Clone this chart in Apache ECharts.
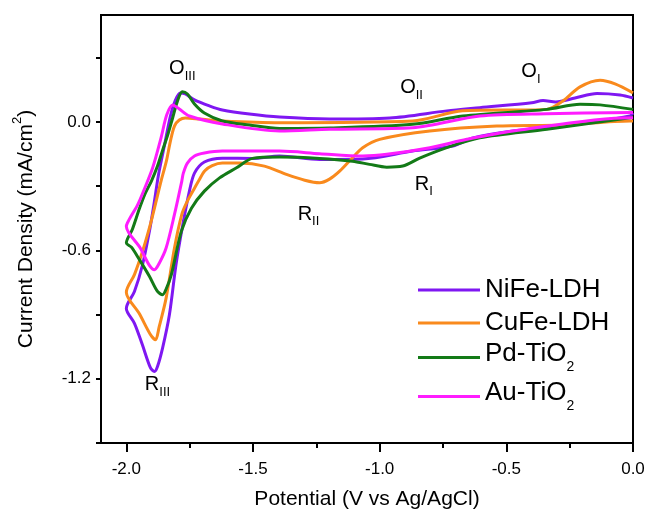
<!DOCTYPE html>
<html>
<head>
<meta charset="utf-8">
<script src="https://cdn.jsdelivr.net/npm/echarts@6/dist/echarts.min.js"></script>
<style>
  html, body { margin: 0; padding: 0; background: #ffffff; }
  #chart { width: 649px; height: 510px; }
</style>
</head>
<body>
<div id="chart"></div>
<script>
// Cyclic voltammograms: [potential (V vs Ag/AgCl), current density (mA/cm2)]
// Each loop runs the cathodic sweep from 0 V to -2 V, then the anodic sweep back.
const nifeLDH = [
  [0, 0.042], [-0.012, 0.028], [-0.277, -0.019], [-0.474, -0.042], [-0.632, -0.074],
  [-0.711, -0.112], [-0.870, -0.136], [-1.067, -0.173], [-1.237, -0.175], [-1.395, -0.159],
  [-1.502, -0.170], [-1.621, -0.169], [-1.692, -0.187], [-1.731, -0.239], [-1.751, -0.323],
  [-1.777, -0.479], [-1.804, -0.667], [-1.830, -0.901], [-1.857, -1.057], [-1.877, -1.143],
  [-1.889, -1.166], [-1.905, -1.148], [-1.937, -1.040], [-1.968, -0.941], [-2.0, -0.871],
  [-1.968, -0.792], [-1.936, -0.667], [-1.909, -0.511], [-1.889, -0.370], [-1.874, -0.253],
  [-1.850, -0.112], [-1.826, 0.028], [-1.806, 0.103], [-1.787, 0.136], [-1.767, 0.131],
  [-1.731, 0.103], [-1.672, 0.075], [-1.621, 0.056], [-1.514, 0.037], [-1.395, 0.023],
  [-1.198, 0.014], [-0.960, 0.019], [-0.735, 0.052], [-0.605, 0.067], [-0.400, 0.090],
  [-0.355, 0.100], [-0.305, 0.094], [-0.229, 0.112], [-0.142, 0.133], [-0.051, 0.126],
  [0, 0.112]
];
const cufeLDH = [
  [0, 0.005], [-0.012, 0.005], [-0.277, -0.014], [-0.538, -0.019], [-0.802, -0.042],
  [-1.0, -0.081], [-1.067, -0.120], [-1.107, -0.167], [-1.158, -0.230], [-1.198, -0.267],
  [-1.237, -0.284], [-1.296, -0.272], [-1.368, -0.245], [-1.455, -0.206], [-1.553, -0.192],
  [-1.621, -0.192], [-1.661, -0.204], [-1.690, -0.228], [-1.712, -0.270], [-1.735, -0.318],
  [-1.760, -0.372], [-1.781, -0.432], [-1.810, -0.589], [-1.843, -0.823], [-1.870, -0.955],
  [-1.885, -1.018], [-1.905, -0.993], [-1.949, -0.895], [-2.0, -0.795],
  [-1.968, -0.713], [-1.936, -0.604], [-1.902, -0.464], [-1.876, -0.339], [-1.863, -0.276],
  [-1.842, -0.183], [-1.826, -0.089], [-1.810, -0.019], [-1.791, 0.009], [-1.767, 0.019],
  [-1.711, 0.014], [-1.621, 0.005], [-1.395, -0.003], [-0.870, 0.005], [-0.672, 0.052],
  [-0.340, 0.059], [-0.277, 0.098], [-0.209, 0.164], [-0.130, 0.195], [-0.071, 0.178],
  [0, 0.136]
];
const pdTiO2 = [
  [0, 0.023], [-0.012, 0.020], [-0.340, -0.034], [-0.605, -0.074], [-0.735, -0.120],
  [-0.842, -0.169], [-0.909, -0.206], [-0.972, -0.211], [-1.040, -0.198], [-1.107, -0.183],
  [-1.237, -0.170], [-1.395, -0.164], [-1.502, -0.170], [-1.565, -0.214], [-1.632, -0.261],
  [-1.692, -0.323], [-1.743, -0.403], [-1.783, -0.511], [-1.822, -0.712], [-1.842, -0.778],
  [-1.857, -0.807], [-1.877, -0.792], [-1.909, -0.721], [-1.949, -0.642], [-1.980, -0.585],
  [-2.0, -0.565],
  [-1.976, -0.501], [-1.949, -0.407], [-1.925, -0.333], [-1.901, -0.276], [-1.877, -0.206],
  [-1.858, -0.136], [-1.838, -0.066], [-1.817, 0.020], [-1.798, 0.098], [-1.779, 0.141],
  [-1.759, 0.131], [-1.731, 0.084], [-1.692, 0.042], [-1.621, 0.005], [-1.514, -0.014],
  [-1.395, -0.030], [-1.198, -0.028], [-0.870, -0.011], [-0.672, 0.028], [-0.340, 0.059],
  [-0.209, 0.083], [-0.130, 0.080], [0, 0.059]
];
const auTiO2 = [
  [0, 0.020], [-0.012, 0.020], [-0.474, -0.042], [-0.656, -0.081], [-0.802, -0.120],
  [-0.972, -0.151], [-1.067, -0.159], [-1.237, -0.148], [-1.395, -0.136], [-1.502, -0.136],
  [-1.621, -0.136], [-1.692, -0.145], [-1.731, -0.159], [-1.759, -0.192], [-1.775, -0.239],
  [-1.781, -0.276], [-1.810, -0.432], [-1.843, -0.589], [-1.870, -0.660], [-1.889, -0.690],
  [-1.909, -0.670], [-1.945, -0.589], [-2.0, -0.487],
  [-1.988, -0.454], [-1.955, -0.386], [-1.929, -0.314], [-1.896, -0.214], [-1.863, -0.074],
  [-1.840, 0.035], [-1.817, 0.080], [-1.791, 0.061], [-1.751, 0.028], [-1.621, -0.009],
  [-1.395, -0.042], [-1.198, -0.034], [-0.870, -0.027], [-0.605, 0.028], [-0.340, 0.039],
  [0, 0.044]
];

const seriesNames = ['NiFe-LDH', 'CuFe-LDH', 'Pd-TiO2', 'Au-TiO2'];
const seriesColors = ['#7f17f2', '#f98a1d', '#137a17', '#ff1cff'];

// Axis ticks and labels
const xMajorTicks = [-2.0, -1.5, -1.0, -0.5, 0.0];
const xMinorTicks = [-1.75, -1.25, -0.75, -0.25];
const yTicks = [-1.5, -1.2, -0.9, -0.6, -0.3, 0.0, 0.3];
const yLabels = [-1.2, -0.6, 0.0];

// Redox peak annotations: [potential, current, letter, subscript]
const peakLabels = [
  [-1.779, 0.239, 'O', 'III'],
  [-0.874, 0.150, 'O', 'II'],
  [-0.403, 0.225, 'O', 'I'],
  [-1.877, -1.237, 'R', 'III'],
  [-1.281, -0.440, 'R', 'II'],
  [-0.826, -0.300, 'R', 'I']
];

const FONT = '"Liberation Sans", Arial, Helvetica, sans-serif';
const curves = [nifeLDH, cufeLDH, pdTiO2, auTiO2];
const legendTops = [277, 310, 341, 380];

const chart = echarts.init(document.getElementById('chart'), null, { renderer: 'canvas' });

const legendLabel = (name) => {
  const m = name.match(/^(.*?)(\d)$/);
  return m ? '{m|' + m[1] + '}{s|' + m[2] + '}' : '{m|' + name + '}';
};

const option = {
  animation: false,
  backgroundColor: '#ffffff',
  grid: {
    left: 101, right: 16, top: 15, bottom: 67,
    outerBoundsMode: 'none',
    containLabel: false,
    show: true, borderColor: '#000', borderWidth: 2, backgroundColor: 'transparent'
  },
  legend: seriesNames.map((name, i) => ({
    data: [{ name: name, icon: 'rect' }],
    orient: 'vertical',
    left: 418,
    top: legendTops[i],
    padding: 0,
    itemWidth: 62,
    itemHeight: 3,
    selectedMode: false,
    formatter: legendLabel,
    textStyle: {
      fontFamily: FONT,
      color: '#000',
      rich: {
        m: { fontFamily: FONT, fontSize: 26, color: '#000', verticalAlign: 'top' },
        s: { fontFamily: FONT, fontSize: 14, color: '#000', verticalAlign: 'top', padding: [19, 0, 0, 0] }
      }
    }
  })),
  xAxis: [
    {
      type: 'value', min: -2.1, max: 0, position: 'bottom',
      name: 'Potential (V vs Ag/AgCl)', nameLocation: 'middle', nameGap: 46,
      nameTextStyle: { fontFamily: FONT, fontSize: 21, color: '#000' },
      axisLine: { show: true, onZero: false, lineStyle: { color: '#000', width: 2 } },
      axisTick: { show: true, customValues: xMajorTicks, length: 9, lineStyle: { color: '#000', width: 2 } },
      axisLabel: {
        show: true, customValues: xMajorTicks, margin: 18,
        fontFamily: FONT, fontSize: 17, color: '#000',
        formatter: (v) => v.toFixed(1)
      },
      splitLine: { show: false }
    },
    {
      type: 'value', min: -2.1, max: 0, position: 'bottom',
      axisLine: { show: false, onZero: false },
      axisTick: { show: true, customValues: xMinorTicks, length: 5, lineStyle: { color: '#000', width: 2 } },
      axisLabel: { show: false },
      splitLine: { show: false }
    }
  ],
  yAxis: {
    type: 'value', min: -1.5, max: 0.5,
    name: '{t|Current Density (mA/cm}{p|2}{t|)}', nameLocation: 'middle', nameGap: 64,
    nameTextStyle: {
      fontFamily: FONT, color: '#000',
      rich: {
        t: { fontFamily: FONT, fontSize: 21, color: '#000', verticalAlign: 'top', padding: [5, 0, 0, 0] },
        p: { fontFamily: FONT, fontSize: 13, color: '#000', verticalAlign: 'top' }
      }
    },
    axisLine: { show: true, onZero: false, lineStyle: { color: '#000', width: 2 } },
    axisTick: { show: true, customValues: yTicks, length: 5, lineStyle: { color: '#000', width: 2 } },
    axisLabel: {
      show: true, customValues: yLabels, margin: 10,
      fontFamily: FONT, fontSize: 17, color: '#000',
      formatter: (v) => v.toFixed(1)
    },
    splitLine: { show: false }
  },
  series: curves.map((data, i) => ({
    type: 'line',
    name: seriesNames[i],
    data: data,
    xAxisIndex: 0,
    showSymbol: false,
    symbol: 'none',
    smooth: 0.3,
    lineStyle: { color: seriesColors[i], width: 3 },
    itemStyle: { color: seriesColors[i] },
    silent: true
  })).concat([{
    type: 'scatter',
    name: 'peaks',
    xAxisIndex: 0,
    symbolSize: 0,
    silent: true,
    itemStyle: { color: 'transparent', opacity: 1 },
    data: peakLabels.map((p) => ({ value: [p[0], p[1]], main: p[2], sub: p[3] })),
    label: {
      show: true,
      position: 'inside',
      color: '#000',
      opacity: 1,
      textBorderWidth: 0,
      textBorderColor: 'transparent',
      formatter: (p) => '{m|' + p.data.main + '}{s|' + p.data.sub + '}',
      rich: {
        m: { fontFamily: FONT, fontSize: 20, color: '#000', textBorderWidth: 0, verticalAlign: 'top' },
        s: { fontFamily: FONT, fontSize: 13, color: '#000', textBorderWidth: 0, verticalAlign: 'top', padding: [11, 0, 0, 0] }
      }
    }
  }])
};

chart.setOption(option);
</script>
</body>
</html>
